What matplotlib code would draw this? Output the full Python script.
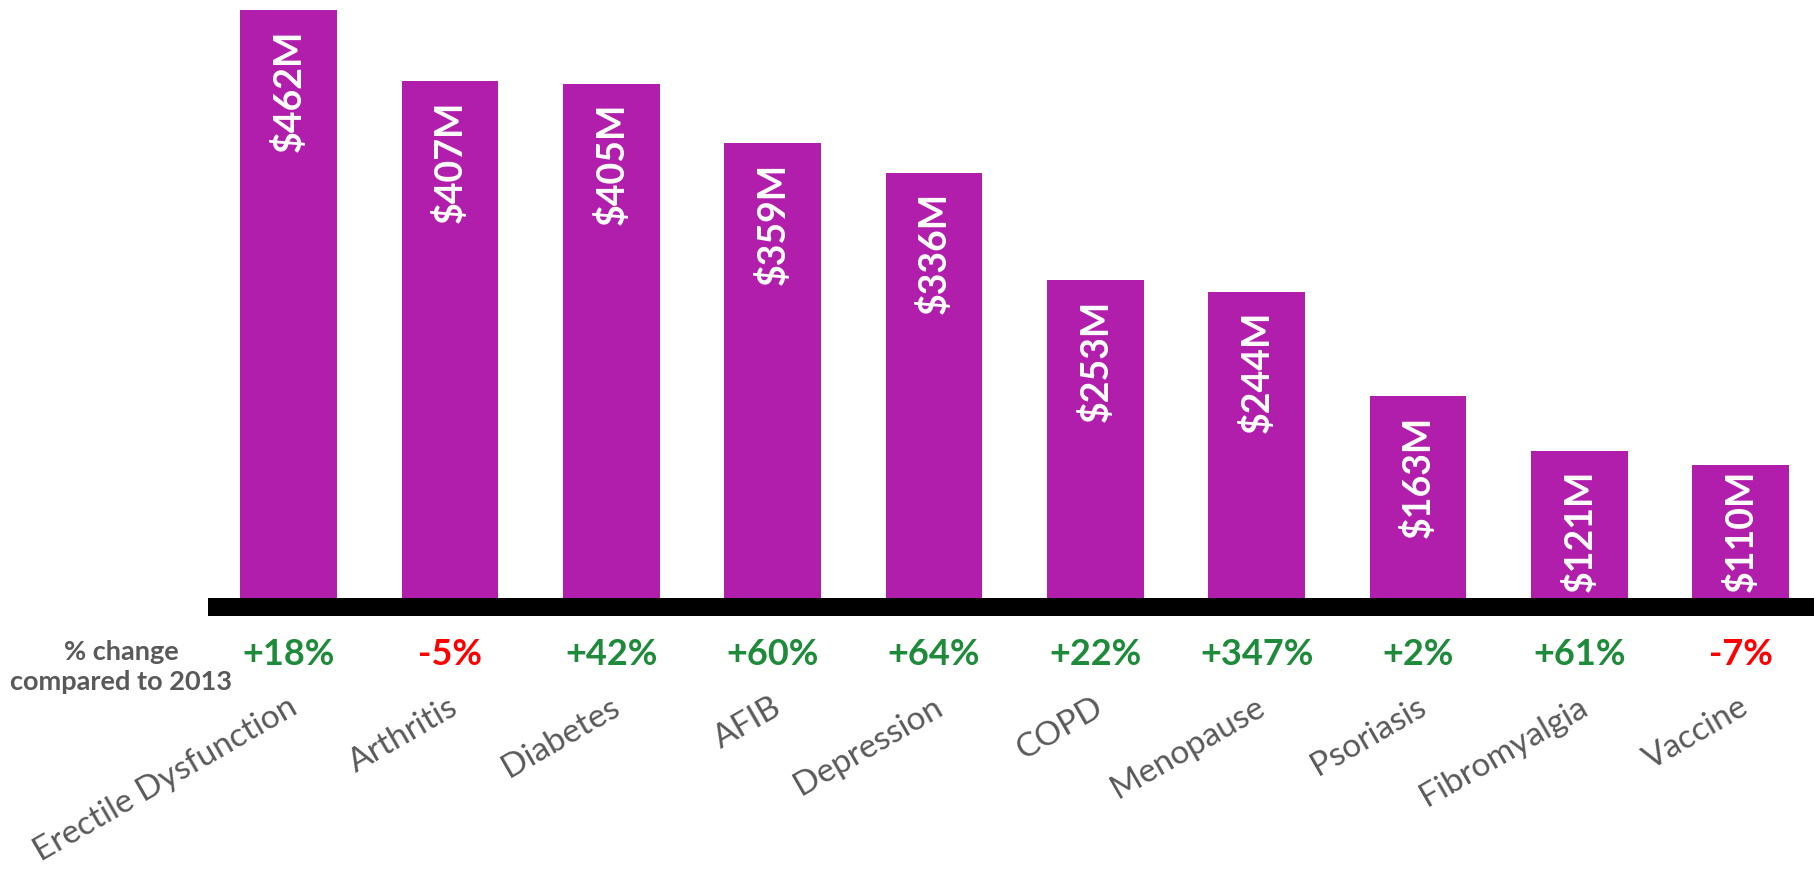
import matplotlib
matplotlib.use("Agg")
import matplotlib.pyplot as plt
import numpy as np

# data
categories = ["Erectile Dysfunction", "Arthritis", "Diabetes", "AFIB", "Depression",
              "COPD", "Menopause", "Psoriasis", "Fibromyalgia", "Vaccine"]
spend = [462, 407, 405, 359, 336, 253, 244, 163, 121, 110]
spend_labels = ["$462M", "$407M", "$405M", "$359M", "$336M",
                "$253M", "$244M", "$163M", "$121M", "$110M"]
pct_change = ["+18%", "-5%", "+42%", "+60%", "+64%",
              "+22%", "+347%", "+2%", "+61%", "-7%"]

bar_color = "#B11EAB"
green = "#1E8B3A"
red = "#FF0000"
gray = "#595959"

plt.rcParams["font.family"] = ["Lato", "DejaVu Sans"]

W, H = 1814, 869
fig = plt.figure(figsize=(W / 100, H / 100), dpi=100)
ax = fig.add_axes([208 / W, 262 / H, 1 - 208 / W, 597 / H])

x = np.arange(len(categories))
ax.bar(x, spend, width=0.6, color=bar_color)
ax.set_xlim(-0.5, 9.455)
ax.set_ylim(0, 462)

# thick black baseline
for s in ["left", "right", "top"]:
    ax.spines[s].set_visible(False)
ax.spines["bottom"].set_linewidth(18 * 72 / 100)
ax.spines["bottom"].set_color("black")
ax.spines["bottom"].set_capstyle("butt")
ax.set_xticks([])
ax.set_yticks([])

# value labels inside bars (pushed up when the bar is too short)
for i, v in enumerate(spend):
    ax.text(i, max(v - 15, 106), spend_labels[i], rotation=90, ha="center", va="top",
            color="white", fontsize=27, fontweight="bold")

# % change row and category labels
tr = ax.get_xaxis_transform()
for i, p in enumerate(pct_change):
    c = red if p.startswith("-") else green
    ax.text(i, -0.0804, p, transform=tr, ha="center", va="center",
            color=c, fontsize=26, fontweight="bold")
    ax.text(i - 0.01, -0.142, categories[i], transform=tr, ha="right", va="top",
            rotation=30, rotation_mode="anchor", color=gray, fontsize=24)

fig.text(121 / W, 1 - 667 / H, "% change\ncompared to 2013", ha="center", va="center",
         multialignment="center", color=gray, fontsize=19.5, fontweight="bold",
         linespacing=1.25)

fig.savefig("out.png", dpi=100)
